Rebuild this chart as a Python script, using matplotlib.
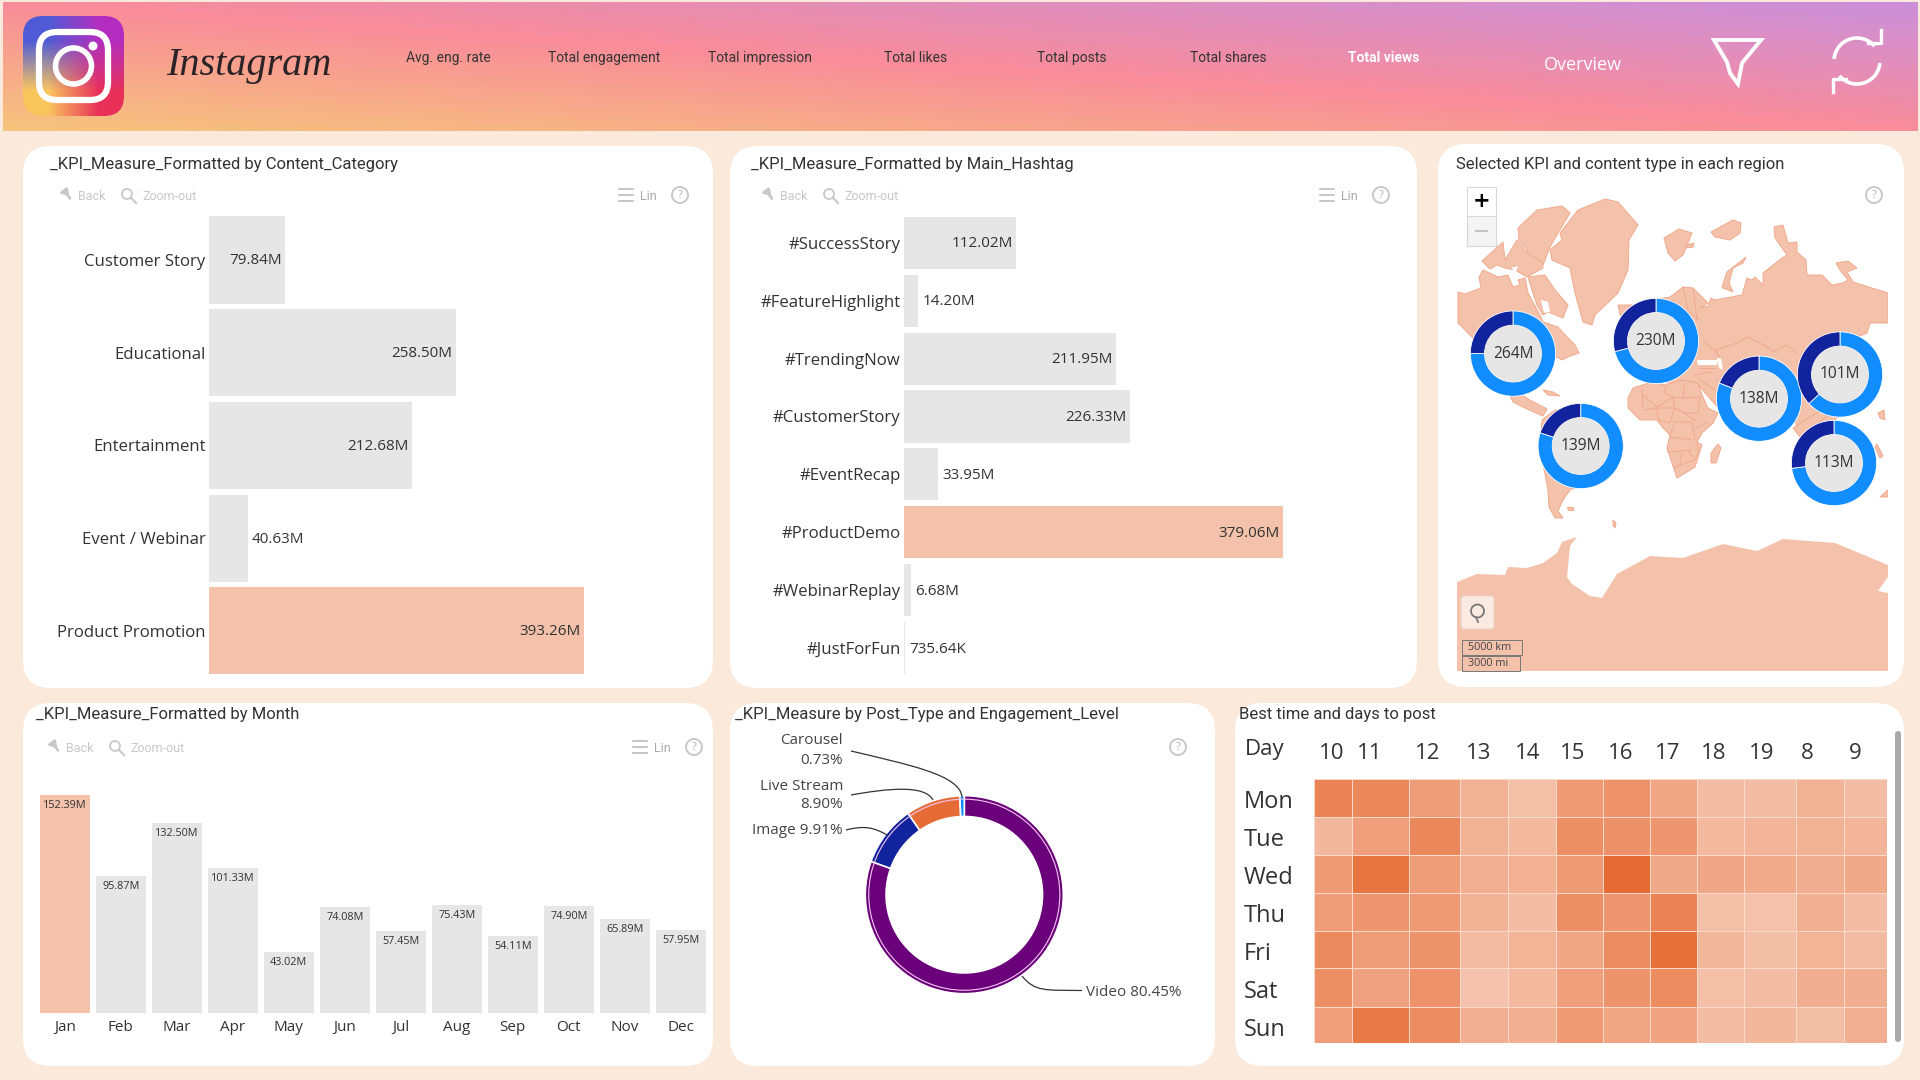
import numpy as np
import matplotlib
matplotlib.use('Agg')
import matplotlib.pyplot as plt
from matplotlib.colors import LinearSegmentedColormap
from matplotlib.patches import FancyBboxPatch, Polygon, Circle, Rectangle, Arc, PathPatch
from matplotlib.path import Path

# chart values
content_categories = ['Customer Story', 'Educational', 'Entertainment', 'Event / Webinar', 'Product Promotion']
content_values = [79.84, 258.50, 212.68, 40.63, 393.26]
hashtags = ['#SuccessStory', '#FeatureHighlight', '#TrendingNow', '#CustomerStory', '#EventRecap', '#ProductDemo', '#WebinarReplay', '#JustForFun']
hashtag_values = [112.02, 14.20, 211.95, 226.33, 33.95, 379.06, 6.68, 0.73564]
months = ['Jan', 'Feb', 'Mar', 'Apr', 'May', 'Jun', 'Jul', 'Aug', 'Sep', 'Oct', 'Nov', 'Dec']
month_values = [152.39, 95.87, 132.50, 101.33, 43.02, 74.08, 57.45, 75.43, 54.11, 74.90, 65.89, 57.95]
post_types = ['Video', 'Image', 'Live Stream', 'Carousel']
post_shares = [80.45, 9.91, 8.90, 0.73]
region_labels = ['264M', '230M', '139M', '138M', '101M', '113M']
region_dark_share = [25, 29, 20, 19, 37, 27]
hours = ['10', '11', '12', '13', '14', '15', '16', '17', '18', '19', '8', '9']
days = ['Mon', 'Tue', 'Wed', 'Thu', 'Fri', 'Sat', 'Sun']
heat_mon = [75, 72, 52, 28, 12, 55, 62, 42, 15, 14, 27, 15]
heat_tue = [22, 50, 72, 28, 18, 65, 63, 58, 20, 24, 28, 24]
heat_wed = [55, 90, 52, 32, 29, 55, 100, 38, 40, 36, 33, 38]
heat_thu = [52, 58, 55, 28, 15, 65, 58, 75, 12, 10, 30, 14]
heat_fri = [70, 52, 60, 17, 26, 42, 68, 95, 23, 13, 26, 17]
heat_sat = [65, 46, 62, 8, 20, 50, 60, 68, 12, 14, 33, 33]
heat_sun = [50, 85, 68, 32, 30, 55, 43, 44, 15, 22, 13, 32]
nav_items = ['Avg. eng. rate', 'Total engagement', 'Total impression', 'Total likes', 'Total posts', 'Total shares', 'Total views']

# rough world outline, traced in image pixels
ellesmere = [(1518,228),(1537,210),(1562,206),(1570,213),(1558,233),(1550,247),(1543,265),(1530,260),(1527,250),(1519,240)]
greenland = [(1560,233),(1578,210),(1605,199),(1618,202),(1638,225),(1629,240),(1628,270),(1618,293),(1595,315),(1592,325),(1583,322),(1575,293),(1570,268),(1552,260),(1550,250),(1562,240)]
arctic_isles = [(1482,261),(1503,242),(1505,260),(1517,240),(1527,253),(1542,262),(1543,268),(1527,277),(1515,270),(1505,268),(1497,265),(1490,269)]
canada = [(1458,292),(1465,294),(1481,288),(1479,277),(1483,270),(1498,277),(1508,275),(1513,287),(1520,285),(1518,280),(1525,278),(1528,293),(1540,315),(1543,322),(1558,327),(1570,340),(1575,345),(1579,353),(1568,357),(1562,360),(1557,357),(1522,373),(1475,340),(1458,323)]
baffin = [(1528,277),(1545,275),(1555,290),(1568,305),(1563,318),(1548,312),(1543,315),(1537,305),(1533,293)]
central_america = [(1505,385),(1530,400),(1547,409),(1543,416),(1527,409),(1513,402)]
cuba = [(1543,390),(1553,392),(1560,396),(1548,395)]
south_america = [(1542,420),(1555,410),(1577,411),(1600,430),(1620,441),(1610,465),(1587,483),(1570,490),(1563,500),(1558,511),(1563,518),(1555,518),(1549,507),(1548,490),(1540,448)]
falklands = [(1567,507),(1573,507),(1573,510),(1568,510)]
georgia = [(1613,520),(1616,523),(1615,528),(1613,525)]
iceland = [(1664,238),(1679,229),(1692,233),(1683,255),(1675,261),(1668,253)]
iceland_b = [(1686,245),(1694,243),(1693,247),(1687,248)]
svalbard = [(1711,232),(1733,220),(1741,223),(1740,233),(1730,240),(1715,237)]
novaya = [(1722,287),(1727,272),(1746,257),(1743,263),(1733,268),(1729,283),(1733,292),(1723,288)]
britain = [(1618,305),(1632,305),(1632,313),(1620,315)]
eurasia = [(1670,297),(1683,287),(1693,288),(1708,303),(1700,308),(1708,306),(1711,298),(1715,300),(1742,295),(1747,278),(1752,280),(1755,277),(1763,285),(1763,273),(1782,258),(1787,255),(1775,238),(1774,227),(1783,225),(1788,243),(1797,242),(1797,252),(1806,260),(1807,275),(1822,275),(1832,285),(1843,283),(1848,280),(1840,270),(1836,263),(1848,261),(1857,268),(1847,272),(1853,282),(1872,288),(1888,293),(1888,323),(1870,323),(1867,333),(1857,337),(1860,390),(1835,420),(1810,430),(1800,434),(1793,416),(1775,430),(1720,410),(1700,387),(1695,383),(1680,385),(1650,380),(1625,330),(1650,300)]
africa = [(1628,398),(1633,388),(1652,382),(1665,385),(1682,380),(1698,383),(1702,395),(1708,408),(1718,413),(1713,423),(1702,433),(1697,442),(1702,445),(1695,467),(1677,478),(1670,457),(1667,448),(1670,435),(1663,428),(1657,420),(1640,420),(1628,408)]
madagascar = [(1711,453),(1718,444),(1721,448),(1716,463),(1711,463)]
indonesia = [(1793,428),(1805,420),(1820,411),(1827,416),(1813,427),(1800,437)]
new_guinea = [(1877,444),(1883,456),(1880,458),(1875,447)]
philippines = [(1878,413),(1884,410),(1885,420),(1880,418)]
new_zealand = [(1880,497),(1888,490),(1888,497)]
antarctica = [(1457,582),(1477,574),(1505,575),(1508,567),(1527,568),(1543,563),(1557,553),(1562,542),(1577,537),(1570,546),(1567,577),(1572,584),(1590,596),(1602,598),(1617,574),(1650,556),(1683,558),(1723,544),(1757,551),(1783,539),(1835,543),(1888,565),(1888,577),(1878,591),(1888,593),(1888,671),(1457,671)]
land = [ellesmere, greenland, arctic_isles, canada, baffin, central_america, cuba, south_america, falklands, georgia, iceland, iceland_b,
        svalbard, novaya, britain, eurasia, africa, madagascar, indonesia, new_guinea, philippines, new_zealand]
black_sea = [(1697,360),(1718,360),(1717,365),(1698,365)]
caspian = [(1717,358),(1721,358),(1723,370),(1719,368)]
canada_holes = [[(1541,300),(1548,302),(1550,312),(1544,313)], [(1556,322),(1562,322),(1560,328)], [(1511,268),(1518,266),(1516,272)]]
borders = [
    [(1642,388),(1643,407)], [(1643,395),(1657,407),(1673,397)], [(1665,385),(1665,393),(1673,397),(1683,398),(1685,383)],
    [(1683,398),(1700,397)], [(1657,408),(1675,408),(1673,397)], [(1657,408),(1658,420),(1670,423),(1673,413),(1675,408)],
    [(1683,413),(1698,413),(1700,398)], [(1675,408),(1683,412),(1697,422)], [(1670,435),(1675,422),(1692,422),(1695,440)],
    [(1693,430),(1708,422)], [(1670,437),(1692,440)], [(1668,452),(1692,450)], [(1682,452),(1680,465),(1695,460),(1688,450)],
    [(1675,468),(1680,465)], [(1697,442),(1698,450),(1696,458)], [(1643,410),(1657,408)],
    [(1715,350),(1737,343),(1747,337),(1768,347),(1773,352),(1787,345),(1797,353)], [(1715,350),(1720,358)],
    [(1683,287),(1688,310)], [(1693,288),(1697,320)], [(1672,300),(1700,320)], [(1695,375),(1712,372)], [(1700,380),(1715,390)],
    [(1703,340),(1716,352)], [(1700,368),(1716,368)],
]

TEXT = '#333333'
GREY_BAR = '#E6E6E6'
HILITE = '#F4C2AB'
ICON = '#C8C8C8'
title_font = 'Roboto'
label_font = 'Open Sans'

fig = plt.figure(figsize=(19.2, 10.8), dpi=100, facecolor='#FBE9DB')


def ax_px(x0, y0, x1, y1, **kw):
    # axes placed in image pixels, y going down
    return fig.add_axes([x0 / 1920, 1 - y1 / 1080, (x1 - x0) / 1920, (y1 - y0) / 1080], **kw)


bg = fig.add_axes([0, 0, 1, 1], zorder=0)
bg.set_xlim(0, 1920)
bg.set_ylim(1080, 0)
bg.axis('off')

fg = fig.add_axes([0, 0, 1, 1], zorder=10)
fg.set_xlim(0, 1920)
fg.set_ylim(1080, 0)
fg.axis('off')
fg.patch.set_alpha(0)

# header gradient
header_cmap = LinearSegmentedColormap.from_list('hdr', ['#F6C47C', '#F98C9A', '#CB90DB'])
gx, gy = np.meshgrid(np.linspace(0, 1, 300), np.linspace(0, 1, 60))
bg.imshow(0.5 * gx + 0.5 * (1 - gy), cmap=header_cmap, extent=(3, 1918, 131, 2), aspect='auto', vmin=0, vmax=1)

# logo
logo_box = FancyBboxPatch((23, 16), 101, 100, boxstyle='round,pad=0,rounding_size=20', fc='none', ec='none')
bg.add_patch(logo_box)
logo = bg.imshow(np.array([[[0.31, 0.36, 0.84], [0.70, 0.18, 0.75]], [[0.98, 0.78, 0.37], [0.91, 0.19, 0.35]]]),
                 extent=(23, 124, 116, 16), interpolation='bilinear', aspect='auto')
logo.set_clip_path(logo_box)
bg.add_patch(FancyBboxPatch((39, 32), 69, 68, boxstyle='round,pad=0,rounding_size=18', fc='none', ec='white', lw=4.5))
bg.add_patch(Circle((73.5, 66), 18, fc='none', ec='white', lw=4))
bg.add_patch(Circle((93, 46), 4.5, fc='white', ec='none'))
bg.set_xlim(0, 1920)
bg.set_ylim(1080, 0)
bg.text(249, 66, 'Instagram', family='Liberation Serif', style='italic', fontsize=29, color='#2B2326', ha='center', va='center')

# header buttons
nav_x = [448, 604, 760, 916, 1072, 1228, 1384]
for i, item in enumerate(nav_items):
    last = i == len(nav_items) - 1
    bg.text(nav_x[i], 58, item, family=title_font, fontsize=10, ha='center', va='center',
            color='white' if last else '#333333', weight='bold' if last else 'normal')
bg.text(1583, 65, 'Overview', family=label_font, fontsize=13, color='white', ha='center', va='center')

# funnel and refresh icons
bg.add_patch(Polygon([(1714, 40), (1761, 40), (1742, 63), (1738, 84), (1730, 73), (1727, 62)], closed=True, fc='none', ec='white', lw=2.8))
bg.add_patch(Arc((1857, 61), 46, 46, theta1=185, theta2=320, ec='white', lw=2.6))
bg.add_patch(Arc((1857, 61), 46, 46, theta1=5, theta2=140, ec='white', lw=2.6))
bg.plot([1868, 1881, 1881], [43, 43, 30], color='white', lw=2.4)
bg.plot([1833, 1833, 1846], [92, 79, 79], color='white', lw=2.4)

# cards
card_rects = [(23, 146, 713, 688), (730, 146, 1417, 688), (1438, 144, 1904, 687),
              (23, 703, 713, 1066), (730, 703, 1215, 1066), (1235, 703, 1904, 1066)]
for x0, y0, x1, y1 in card_rects:
    bg.add_patch(FancyBboxPatch((x0, y0), x1 - x0, y1 - y0, boxstyle='round,pad=0,rounding_size=28', fc='white', ec='none'))

titles = [(50, 164, '_KPI_Measure_Formatted by Content_Category'), (751, 164, '_KPI_Measure_Formatted by Main_Hashtag'),
          (1456, 164, 'Selected KPI and content type in each region'), (36, 715, '_KPI_Measure_Formatted by Month'),
          (735, 715, '_KPI_Measure by Post_Type and Engagement_Level'), (1239, 715, 'Best time and days to post')]
for x, y, t in titles:
    bg.text(x, y, t, family=title_font, fontsize=12, color=TEXT, ha='left', va='center')


def help_icon(x, y):
    bg.add_patch(Circle((x, y), 8, fc='none', ec=ICON, lw=1.4))
    bg.text(x, y, '?', family=label_font, fontsize=8, color='#B0B0B0', ha='center', va='center')


def toolbar(left, right, y):
    # Back / Zoom-out on the left, Lin and help on the right
    bg.annotate('', xy=(left - 8, y - 1), xytext=(left + 7, y + 6),
                arrowprops=dict(arrowstyle='-|>', color=ICON, lw=2, connectionstyle='arc3,rad=0.5'))
    bg.text(left + 28, y + 1, 'Back', family=title_font, fontsize=9, color=ICON, ha='center', va='center')
    bg.add_patch(Circle((left + 63, y - 1), 5, fc='none', ec=ICON, lw=1.3))
    bg.plot([left + 67, left + 72], [y + 3, y + 8], color=ICON, lw=1.5)
    bg.text(left + 106, y + 1, 'Zoom-out', family=title_font, fontsize=9, color=ICON, ha='center', va='center')
    for dy in (-6, 0, 6):
        bg.plot([right - 7, right + 7], [y + dy, y + dy], color='#BDBDBD', lw=1.2)
    bg.text(right + 22, y + 1, 'Lin', family=title_font, fontsize=9, color='#A8A8A8', ha='center', va='center')
    help_icon(right + 54, y)


toolbar(64, 626, 195)
toolbar(766, 1327, 195)
toolbar(52, 640, 747)
help_icon(1874, 195)
help_icon(1178, 747)


def fmt_value(v):
    return f'{v:.2f}M' if v >= 1 else f'{v * 1000:.2f}K'


def hbar_chart(ax, names, values, xmax, height, inside_min):
    colors = [HILITE if v == max(values) else GREY_BAR for v in values]
    ax.barh(range(len(names)), values, height=height, color=colors)
    ax.set_xlim(0, xmax)
    ax.set_ylim(len(names) - 0.5, -0.5)
    ax.set_yticks(range(len(names)), names, family=label_font, fontsize=12.1, color=TEXT)
    ax.set_xticks([])
    ax.tick_params(axis='y', length=0, pad=2.5)
    for s in ax.spines.values():
        s.set_visible(False)
    ax.patch.set_alpha(0)
    for i, v in enumerate(values):
        if v >= inside_min:
            ax.annotate(fmt_value(v), (v, i), xytext=(-2.5, -0.7), textcoords='offset points', ha='right', va='center',
                        family=label_font, fontsize=11, color=TEXT)
        else:
            ax.annotate(fmt_value(v), (v, i), xytext=(3, -0.7), textcoords='offset points', ha='left', va='center',
                        family=label_font, fontsize=11, color=TEXT)


ax1 = ax_px(209, 213.6, 700, 677.2, zorder=2)
hbar_chart(ax1, content_categories, content_values, 491 / 0.954, 0.94, 50)
ax2 = ax_px(904, 213.8, 1390, 677.1, zorder=2)
hbar_chart(ax2, hashtags, hashtag_values, 486, 0.9, 50)

# monthly columns
ax4 = ax_px(36.8, 780, 708.8, 1013.3, zorder=2)
month_colors = [HILITE if v == max(month_values) else GREY_BAR for v in month_values]
ax4.bar(range(12), month_values, width=0.9, color=month_colors)
ax4.set_xlim(-0.5, 11.5)
ax4.set_ylim(0, 233.3 / 1.4345)
ax4.set_xticks(range(12), months, family=label_font, fontsize=11, color=TEXT)
ax4.set_yticks([])
ax4.tick_params(axis='x', length=0, pad=4.5)
for s in ax4.spines.values():
    s.set_visible(False)
ax4.patch.set_alpha(0)
for i, v in enumerate(month_values):
    ax4.annotate(fmt_value(v), (i, v), xytext=(0, -7.5), textcoords='offset points', ha='center', va='center',
                 family=label_font, fontsize=7.8, color=TEXT)

# map
ax3 = ax_px(1456.7, 190, 1887.7, 671, zorder=2)
ax3.set_xlim(1456.7, 1887.7)
ax3.set_ylim(671, 190)
ax3.axis('off')
for shape in land:
    ax3.add_patch(Polygon(shape, closed=True, fc=HILITE, ec='#F0A98C', lw=0.7))
ax3.add_patch(Polygon(antarctica, closed=True, fc=HILITE, ec='none'))
for hole in [black_sea, caspian] + canada_holes:
    ax3.add_patch(Polygon(hole, closed=True, fc='white', ec='none'))
for line in borders:
    xs, ys = zip(*line)
    ax3.plot(xs, ys, color='#F0A98C', lw=0.7)

# region donuts
region_x = [1513, 1656, 1580.7, 1759, 1840, 1834]
region_y = [353.6, 341, 446, 398.7, 374.5, 463]
for i, name in enumerate(region_labels):
    r = 43.5
    ax = ax_px(region_x[i] - r, region_y[i] - r, region_x[i] + r, region_y[i] + r, zorder=3)
    dark = region_dark_share[i]
    ax.pie([100 - dark, dark], colors=['#118DFF', '#12239E'], startangle=90, counterclock=False, radius=1,
           wedgeprops=dict(width=1 - 29 / 43.5, edgecolor='white', linewidth=0.6))
    ax.add_patch(Circle((0, 0), 29 / 43.5, fc='#E6E6E6', ec='none'))
    ax.text(0, 0, name, family=label_font, fontsize=11.2, color=TEXT, ha='center', va='center')
    ax.set_xlim(-1.02, 1.02)
    ax.set_ylim(-1.02, 1.02)

# map controls
fg.add_patch(Rectangle((1467, 186.5), 29, 59, fc='white', ec='#D8D8D8', lw=0.8))
fg.add_patch(Rectangle((1467, 216), 29, 29.5, fc='#F4F4F4', ec='#D8D8D8', lw=0.8))
fg.text(1481.5, 201, '+', family='DejaVu Sans', weight='bold', fontsize=15, color='black', ha='center', va='center')
fg.plot([1476, 1487], [231, 231], color='#BDBDBD', lw=1.3)
fg.add_patch(FancyBboxPatch((1461, 596), 33, 33, boxstyle='round,pad=0,rounding_size=3', fc='#FBEAE2', ec='#EBD6CB', lw=0.8))
fg.add_patch(Circle((1477.5, 611), 6.5, fc='none', ec='#777777', lw=1.3))
fg.plot([1476, 1478], [617, 622], color='#777777', lw=1.3)
fg.add_patch(Rectangle((1462, 640), 60, 15, fc=HILITE, ec='#777777', lw=0.7))
fg.add_patch(Rectangle((1462, 656), 58, 15, fc=HILITE, ec='#777777', lw=0.7))
fg.text(1490, 648, '5000 km', family=label_font, fontsize=7.8, color='#444444', ha='center', va='center')
fg.text(1488, 664, '3000 mi', family=label_font, fontsize=7.8, color='#444444', ha='center', va='center')

# post type donut
r_out = 100
ax5 = ax_px(964.3 - r_out, 894.7 - r_out, 964.3 + r_out, 894.7 + r_out, zorder=2)
ax5.pie(post_shares, colors=['#6B007B', '#12239E', '#E66C37', '#118DFF'], startangle=90, counterclock=False, radius=1,
        wedgeprops=dict(width=1 - 79 / 100, edgecolor='white', linewidth=1.2))
ax5.add_patch(Circle((0, 0), 0.965, fc='none', ec='#F3C6F0', lw=0.8))
ax5.set_xlim(-1.01, 1.01)
ax5.set_ylim(-1.01, 1.01)

for x, y, t, ha in [(843, 741, post_types[3], 'right'), (843, 761, f'{post_shares[3]:.2f}%', 'right'),
                    (843, 786, post_types[2], 'right'), (843, 805, f'{post_shares[2]:.2f}%', 'right'),
                    (843, 831, f'{post_types[1]} {post_shares[1]:.2f}%', 'right'),
                    (1086, 992, f'{post_types[0]} {post_shares[0]:.2f}%', 'left')]:
    bg.text(x, y, t, family=label_font, fontsize=11, color='#444444', ha=ha, va='center')

leaders = [[(851, 751), (910, 765), (960, 775), (962, 797)], [(851, 795), (890, 788), (925, 785), (933, 800)],
           [(846, 830), (865, 825), (875, 828), (887, 835)], [(1022, 976), (1035, 992), (1045, 990), (1082, 990.5)]]
for pts in leaders:
    fg.add_patch(PathPatch(Path(pts, [Path.MOVETO, Path.CURVE4, Path.CURVE4, Path.CURVE4]), fc='none', ec='#333333', lw=0.9))

# heatmap
col_edges = [1313.6, 1352.4, 1409.1, 1460.2, 1508.2, 1555.7, 1602.8, 1649.9, 1696.6, 1743.6, 1796.5, 1844, 1886.7]
row_edges = [779, 816.7, 855, 892.7, 930.7, 968.3, 1006.7, 1043.3]
hour_label_x = [1332, 1370, 1428, 1479, 1527.5, 1573, 1621, 1668, 1714, 1762, 1807.5, 1855]
heat_values = np.array([heat_mon, heat_tue, heat_wed, heat_thu, heat_fri, heat_sat, heat_sun])
heat_cmap = LinearSegmentedColormap.from_list('heat', ['#F5C9B5', '#EF9F7B', '#E66A33'])
ax6 = ax_px(col_edges[0], row_edges[0], col_edges[-1], row_edges[-1], zorder=2)
ax6.pcolormesh(col_edges, row_edges, heat_values, cmap=heat_cmap, vmin=0, vmax=100, edgecolors='#FAD9CB', linewidth=0.5)
ax6.set_xlim(col_edges[0], col_edges[-1])
ax6.set_ylim(row_edges[-1], row_edges[0])
ax6.xaxis.tick_top()
ax6.set_xticks(hour_label_x, hours, family=label_font, fontsize=16, color=TEXT)
ax6.set_yticks([(row_edges[i] + row_edges[i + 1]) / 2 + 1.5 for i in range(7)], days, family=label_font, fontsize=17, color=TEXT, ha='left')
ax6.tick_params(axis='x', length=0, pad=11)
ax6.tick_params(axis='y', length=0, pad=50)
for s in ax6.spines.values():
    s.set_visible(False)
bg.text(1244.5, 750, 'Day', family=label_font, fontsize=16, color=TEXT, ha='left', va='center')
bg.add_patch(FancyBboxPatch((1895, 731), 6, 311, boxstyle='round,pad=0,rounding_size=3', fc='#A9A9A9', ec='none'))

fig.savefig('out.png', dpi=100, facecolor=fig.get_facecolor())
